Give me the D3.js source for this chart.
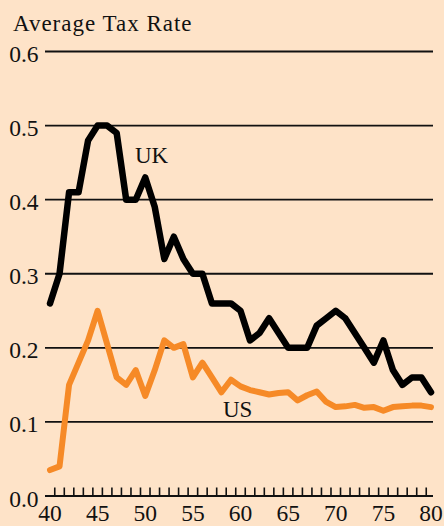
<!DOCTYPE html>
<html>
<head>
<meta charset="utf-8">
<script src="https://cdn.jsdelivr.net/npm/d3@7"></script>
<style>
  body { margin: 0; background: #fee3c8; }
  svg { display: block; }
  text { font-family: "Liberation Serif", "Times New Roman", serif; fill: #111; }
</style>
</head>
<body>
<div id="chart"></div>
<script>
// years on the x axis
var years = d3.range(40, 81);

// average tax rate, UK
var uk_rate = [0.26, 0.30, 0.41, 0.41, 0.48, 0.50, 0.50, 0.49, 0.40, 0.40,
  0.43, 0.39, 0.32, 0.35, 0.32, 0.30, 0.30, 0.26, 0.26, 0.26,
  0.25, 0.21, 0.22, 0.24, 0.22, 0.20, 0.20, 0.20, 0.23, 0.24,
  0.25, 0.24, 0.22, 0.20, 0.18, 0.21, 0.17, 0.15, 0.16, 0.16,
  0.14];

// average tax rate, US
var us_rate = [0.035, 0.04, 0.15, 0.18, 0.21, 0.25, 0.205, 0.16, 0.15, 0.17,
  0.135, 0.17, 0.21, 0.20, 0.205, 0.16, 0.18, 0.16, 0.14, 0.157,
  0.148, 0.143, 0.14, 0.137, 0.139, 0.14, 0.129, 0.136, 0.141, 0.127,
  0.12, 0.121, 0.123, 0.119, 0.12, 0.115, 0.12, 0.121, 0.122, 0.122,
  0.12];

var y_ticks = [0, 0.1, 0.2, 0.3, 0.4, 0.5, 0.6];
var x_labels = [40, 45, 50, 55, 60, 65, 70, 75, 80];

var width = 444, height = 526;

var svg = d3.select("#chart")
  .append("svg")
  .attr("width", width)
  .attr("height", height);

var x = d3.scaleLinear().domain([40, 80]).range([50, 431]);
var y = d3.scaleLinear().domain([0, 0.6]).range([496, 51.5]);

// title
svg.append("text")
  .attr("x", 13)
  .attr("y", 31)
  .style("font-size", "23px")
  .style("letter-spacing", "1px")
  .text("Average Tax Rate");

// horizontal grid lines + labels
svg.append("g").selectAll("line")
  .data(y_ticks)
  .enter().append("line")
  .attr("x1", 45)
  .attr("x2", 433)
  .attr("y1", function(d) { return y(d); })
  .attr("y2", function(d) { return y(d); })
  .style("stroke", "#111")
  .style("stroke-width", function(d) { return d == 0 ? 2.2 : 1.8; });

svg.append("g").selectAll("text")
  .data(y_ticks)
  .enter().append("text")
  .attr("x", 38.5)
  .attr("y", function(d) { return y(d) + 10.5; })
  .attr("text-anchor", "end")
  .style("font-size", "23.5px")
  .text(function(d) { return d3.format(".1f")(d); });

// small ticks sit between the years
var x_ticks = d3.range(40.5, 80, 1);
svg.append("g").selectAll("line")
  .data(x_ticks)
  .enter().append("line")
  .attr("x1", function(d) { return x(d); })
  .attr("x2", function(d) { return x(d); })
  .attr("y1", y(0))
  .attr("y2", y(0) - 8.5)
  .style("stroke", "#111")
  .style("stroke-width", 1.6);

svg.append("g").selectAll("text")
  .data(x_labels)
  .enter().append("text")
  .attr("x", function(d) { return x(d); })
  .attr("y", 521)
  .attr("text-anchor", "middle")
  .style("font-size", "23.5px")
  .text(function(d) { return d; });

var line = d3.line()
  .x(function(d, i) { return x(years[i]); })
  .y(function(d) { return y(d); });

svg.append("path")
  .datum(us_rate)
  .attr("d", line)
  .style("fill", "none")
  .style("stroke", "#f68a27")
  .style("stroke-width", 6)
  .style("stroke-linejoin", "round")
  .style("stroke-linecap", "round");

svg.append("path")
  .datum(uk_rate)
  .attr("d", line)
  .style("fill", "none")
  .style("stroke", "#000")
  .style("stroke-width", 6.5)
  .style("stroke-linejoin", "round")
  .style("stroke-linecap", "round");

// series labels
svg.append("text")
  .attr("x", 135)
  .attr("y", 163)
  .style("font-size", "23px")
  .text("UK");

svg.append("text")
  .attr("x", 223)
  .attr("y", 416.5)
  .style("font-size", "23px")
  .text("US");
</script>
</body>
</html>
